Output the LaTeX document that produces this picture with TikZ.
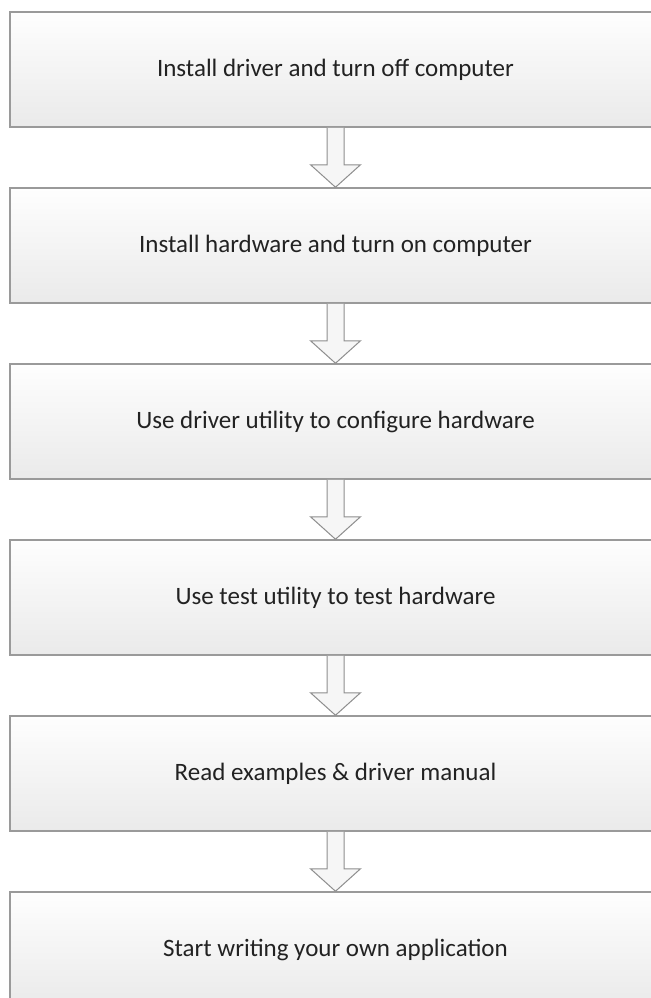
\documentclass[tikz,border=0pt]{standalone}
\usepackage{fontspec}
\setmainfont{Carlito}
\usetikzlibrary{calc}
\definecolor{boxline}{HTML}{9A9A9A}
\definecolor{boxtop}{HTML}{FEFEFE}
\definecolor{boxbot}{HTML}{EAEAEA}
\definecolor{txt}{HTML}{222222}
\definecolor{arrline}{HTML}{8E8E8E}
\definecolor{arrfill}{HTML}{F6F6F6}
\tikzset{
  stepbox/.style={draw=boxline, line width=1.5bp, top color=boxtop, bottom color=boxbot,
    minimum width=651bp, minimum height=115bp, inner sep=0pt, text=txt,
    font=\fontsize{25bp}{30bp}\selectfont},
  blockarrow/.style={draw=arrline, line width=1bp, fill=arrfill, line join=miter}
}
\begin{document}
\begin{tikzpicture}[x=1bp,y=-1bp]
\useasboundingbox[fill=white] (0,0) rectangle (651,998);
\foreach \i/\t in {1/{Install driver and turn off computer},
                   2/{Install hardware and turn on computer},
                   3/{Use driver utility to configure hardware},
                   4/{Use test utility to test hardware},
                   5/{Read examples \& driver manual},
                   6/{Start writing your own application}}{
  \node[stepbox] (b\i) at (335.5, {12+57.5+(\i-1)*176}) {\t};
}
\foreach \a/\b in {1/2,2/3,3/4,4/5,5/6}{
  \filldraw[blockarrow] ($(b\a.south)+(-8.5,0)$) -- ($(b\a.south)+(-8.5,37)$)
    -- ($(b\a.south)+(-25,37)$) -- (b\b.north) -- ($(b\a.south)+(25,37)$)
    -- ($(b\a.south)+(8.5,37)$) -- ($(b\a.south)+(8.5,0)$);
}
\end{tikzpicture}
\end{document}
